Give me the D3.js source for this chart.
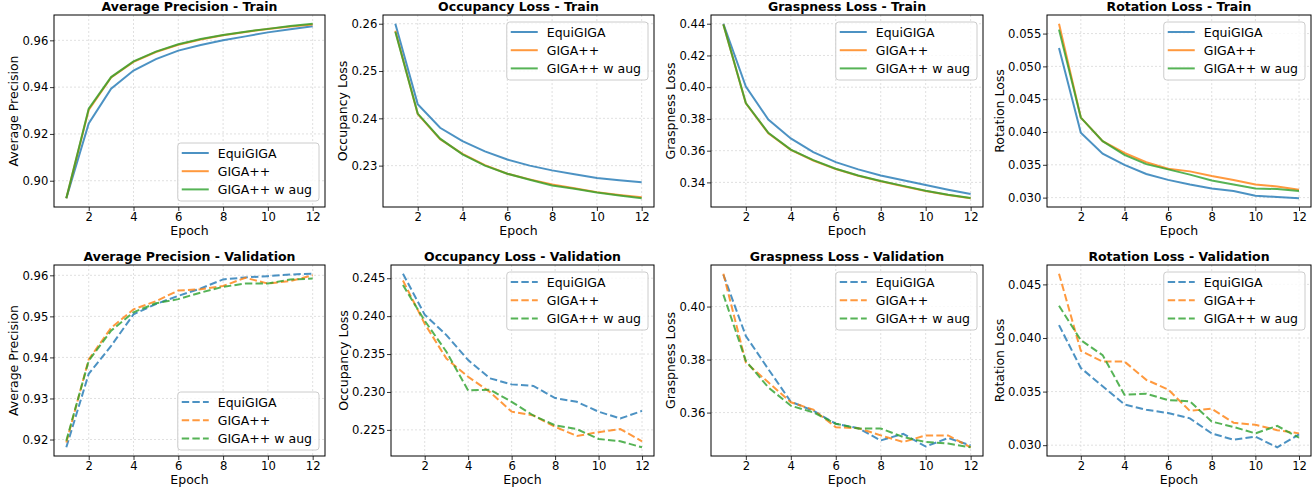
<!DOCTYPE html>
<html>
<head>
<meta charset="utf-8">
<script src="https://cdn.jsdelivr.net/npm/d3@7/dist/d3.min.js"></script>
<style>
body { margin: 0; background: #fff; }
text { font-family: "DejaVu Sans", sans-serif; fill: #000; }
</style>
</head>
<body>
<svg id="chart" width="1316" height="490"></svg>
<script>
// Global data
var epochs = [1, 2, 3, 4, 5, 6, 7, 8, 9, 10, 11, 12];
var xTicks = [2, 4, 6, 8, 10, 12];
var seriesNames = ["EquiGIGA", "GIGA++", "GIGA++ w aug"];
var seriesColors = ["#1f77b4", "#ff7f0e", "#2ca02c"];

// Average precision - train
var apTrainEqui = [0.8925, 0.9245, 0.9393, 0.9471, 0.9520, 0.9556, 0.9580, 0.9600, 0.9617, 0.9634, 0.9647, 0.9660];
var apTrainGiga = [0.8925, 0.9303, 0.9441, 0.9508, 0.9550, 0.9581, 0.9604, 0.9622, 0.9636, 0.9648, 0.9659, 0.9668];
var apTrainAug  = [0.8925, 0.9308, 0.9443, 0.9510, 0.9552, 0.9583, 0.9606, 0.9623, 0.9637, 0.9649, 0.9661, 0.9671];
// Occupancy loss - train
var occTrainEqui = [0.2600, 0.2430, 0.2380, 0.2352, 0.2330, 0.2313, 0.2300, 0.2290, 0.2282, 0.2274, 0.2269, 0.2265];
var occTrainGiga = [0.2585, 0.2409, 0.2356, 0.2325, 0.2301, 0.2283, 0.2271, 0.2260, 0.2252, 0.2244, 0.2238, 0.2233];
var occTrainAug  = [0.2583, 0.2410, 0.2357, 0.2324, 0.2300, 0.2283, 0.2270, 0.2258, 0.2251, 0.2243, 0.2237, 0.2231];
// Graspness loss - train
var graspTrainEqui = [0.4400, 0.4004, 0.3796, 0.3677, 0.3591, 0.3528, 0.3482, 0.3444, 0.3413, 0.3383, 0.3354, 0.3327];
var graspTrainGiga = [0.4395, 0.3898, 0.3710, 0.3605, 0.3538, 0.3484, 0.3442, 0.3407, 0.3376, 0.3346, 0.3321, 0.3300];
var graspTrainAug  = [0.4395, 0.3900, 0.3712, 0.3607, 0.3540, 0.3486, 0.3444, 0.3409, 0.3378, 0.3348, 0.3322, 0.3301];
// Rotation loss - train
var rotTrainEqui = [0.0528, 0.0399, 0.0367, 0.0350, 0.0336, 0.0327, 0.0320, 0.0314, 0.0310, 0.0303, 0.0301, 0.0299];
var rotTrainGiga = [0.0565, 0.0422, 0.0386, 0.0368, 0.0354, 0.0344, 0.0340, 0.0333, 0.0327, 0.0320, 0.0317, 0.0312];
var rotTrainAug  = [0.0556, 0.0422, 0.0386, 0.0365, 0.0351, 0.0343, 0.0335, 0.0326, 0.0320, 0.0314, 0.0313, 0.0310];
// Average precision - validation
var apValEqui = [0.9181, 0.9360, 0.9428, 0.9505, 0.9530, 0.9550, 0.9568, 0.9590, 0.9595, 0.9598, 0.9602, 0.9604];
var apValGiga = [0.9193, 0.9395, 0.9472, 0.9517, 0.9537, 0.9563, 0.9566, 0.9574, 0.9594, 0.9580, 0.9586, 0.9600];
var apValAug  = [0.9197, 0.9392, 0.9465, 0.9510, 0.9532, 0.9542, 0.9558, 0.9572, 0.9580, 0.9580, 0.9590, 0.9592];
// Occupancy loss - validation
var occValEqui = [0.2456, 0.2402, 0.2375, 0.2342, 0.2318, 0.2310, 0.2308, 0.2292, 0.2287, 0.2274, 0.2265, 0.2275];
var occValGiga = [0.2447, 0.2390, 0.2344, 0.2320, 0.2300, 0.2274, 0.2269, 0.2254, 0.2242, 0.2247, 0.2251, 0.2235];
var occValAug  = [0.2441, 0.2394, 0.2353, 0.2302, 0.2303, 0.2287, 0.2269, 0.2256, 0.2251, 0.2238, 0.2235, 0.2227];
// Graspness loss - validation
var graspValEqui = [0.4120, 0.3889, 0.3764, 0.3641, 0.3607, 0.3558, 0.3541, 0.3495, 0.3520, 0.3472, 0.3504, 0.3476];
var graspValGiga = [0.4124, 0.3789, 0.3714, 0.3639, 0.3611, 0.3545, 0.3541, 0.3514, 0.3489, 0.3514, 0.3514, 0.3469];
var graspValAug  = [0.4045, 0.3795, 0.3695, 0.3626, 0.3601, 0.3558, 0.3540, 0.3540, 0.3508, 0.3489, 0.3483, 0.3469];
// Rotation loss - validation
var rotValEqui = [0.0412, 0.0372, 0.0355, 0.0338, 0.0333, 0.0330, 0.0325, 0.0311, 0.0305, 0.0308, 0.0298, 0.0310];
var rotValGiga = [0.0460, 0.0388, 0.0378, 0.0378, 0.0361, 0.0352, 0.0332, 0.0334, 0.0321, 0.0319, 0.0314, 0.0311];
var rotValAug  = [0.0430, 0.0398, 0.0384, 0.0347, 0.0348, 0.0342, 0.0341, 0.0322, 0.0317, 0.0311, 0.0318, 0.0307];

// tick labels per panel
var apTrainTicks = [0.90, 0.92, 0.94, 0.96];
var occTrainTicks = [0.23, 0.24, 0.25, 0.26];
var graspTrainTicks = [0.34, 0.36, 0.38, 0.40, 0.42, 0.44];
var rotTrainTicks = [0.030, 0.035, 0.040, 0.045, 0.050, 0.055];
var apValTicks = [0.92, 0.93, 0.94, 0.95, 0.96];
var occValTicks = [0.225, 0.230, 0.235, 0.240, 0.245];
var graspValTicks = [0.36, 0.38, 0.40];
var rotValTicks = [0.030, 0.035, 0.040, 0.045];

var panels = [
	{ title: "Average Precision - Train", ylabel: "Average Precision", ticks: apTrainTicks, fmt: ".2f", legend: "lower", dashed: false, series: [apTrainEqui, apTrainGiga, apTrainAug] },
	{ title: "Occupancy Loss - Train", ylabel: "Occupancy Loss", ticks: occTrainTicks, fmt: ".2f", legend: "upper", dashed: false, series: [occTrainEqui, occTrainGiga, occTrainAug] },
	{ title: "Graspness Loss - Train", ylabel: "Graspness Loss", ticks: graspTrainTicks, fmt: ".2f", legend: "upper", dashed: false, series: [graspTrainEqui, graspTrainGiga, graspTrainAug] },
	{ title: "Rotation Loss - Train", ylabel: "Rotation Loss", ticks: rotTrainTicks, fmt: ".3f", legend: "upper", dashed: false, series: [rotTrainEqui, rotTrainGiga, rotTrainAug] },
	{ title: "Average Precision - Validation", ylabel: "Average Precision", ticks: apValTicks, fmt: ".2f", legend: "lower", dashed: true, series: [apValEqui, apValGiga, apValAug] },
	{ title: "Occupancy Loss - Validation", ylabel: "Occupancy Loss", ticks: occValTicks, fmt: ".3f", legend: "upper", dashed: true, series: [occValEqui, occValGiga, occValAug] },
	{ title: "Graspness Loss - Validation", ylabel: "Graspness Loss", ticks: graspValTicks, fmt: ".2f", legend: "upper", dashed: true, series: [graspValEqui, graspValGiga, graspValAug] },
	{ title: "Rotation Loss - Validation", ylabel: "Rotation Loss", ticks: rotValTicks, fmt: ".3f", legend: "upper", dashed: true, series: [rotValEqui, rotValGiga, rotValAug] }
];

// axes boxes: left, right, top, bottom
var boxes = [
	[54, 325, 15, 207], [383, 654, 15, 207], [711, 983, 15, 207], [1047, 1311, 15, 207],
	[54, 325, 265, 456], [391, 654, 265, 456], [711, 983, 265, 456], [1047, 1311, 265, 456]
];

var svg = d3.select("#chart");

function drawPanel(p, b) {
	var left = b[0], right = b[1], top = b[2], bottom = b[3];
	var g = svg.append("g");

	var x = d3.scaleLinear().domain([0.45, 12.55]).range([left, right]);

	// matplotlib style 5% margins around the data
	var all = d3.merge(p.series);
	var lo = d3.min(all), hi = d3.max(all), pad = (hi - lo) * 0.05;
	var y = d3.scaleLinear().domain([lo - pad, hi + pad]).range([bottom, top]);

	// grid
	g.append("g").selectAll("line").data(xTicks).enter().append("line")
		.attr("x1", function(d) { return x(d); }).attr("x2", function(d) { return x(d); })
		.attr("y1", top).attr("y2", bottom)
		.attr("stroke", "#d8d8d8").attr("stroke-width", 0.8).attr("stroke-dasharray", "2,2");
	g.append("g").selectAll("line").data(p.ticks).enter().append("line")
		.attr("y1", function(d) { return y(d); }).attr("y2", function(d) { return y(d); })
		.attr("x1", left).attr("x2", right)
		.attr("stroke", "#d8d8d8").attr("stroke-width", 0.8).attr("stroke-dasharray", "2,2");

	// series lines
	var line = d3.line()
		.x(function(d, i) { return x(epochs[i]); })
		.y(function(d) { return y(d); });

	p.series.forEach(function(s, i) {
		g.append("path")
			.datum(s)
			.attr("d", line)
			.attr("fill", "none")
			.attr("stroke", seriesColors[i])
			.attr("stroke-opacity", 0.8)
			.attr("stroke-width", 2)
			.attr("stroke-dasharray", p.dashed ? "7.4,3.2" : null);
	});

	// axes
	var xAxis = d3.axisBottom(x).tickValues(xTicks).tickSize(4).tickPadding(2).tickSizeOuter(0);
	var gx = g.append("g").attr("transform", "translate(0," + bottom + ")").call(xAxis);
	var yAxis = d3.axisLeft(y).tickValues(p.ticks).tickFormat(d3.format(p.fmt)).tickSize(4).tickPadding(1.7).tickSizeOuter(0);
	var gy = g.append("g").attr("transform", "translate(" + left + ",0)").call(yAxis);
	[gx, gy].forEach(function(a) {
		a.select(".domain").remove();
		a.selectAll(".tick line").attr("stroke", "#000").attr("stroke-width", 0.8);
		a.selectAll(".tick text").attr("font-size", 11.6).attr("font-family", "DejaVu Sans").attr("fill", "#000");
	});

	// frame
	g.append("rect")
		.attr("x", left).attr("y", top)
		.attr("width", right - left).attr("height", bottom - top)
		.attr("fill", "none").attr("stroke", "#000").attr("stroke-width", 1);

	// title and labels
	g.append("text")
		.attr("x", (left + right) / 2).attr("y", top - 4)
		.attr("text-anchor", "middle")
		.attr("font-size", 12.5).attr("font-weight", "bold")
		.text(p.title);

	g.append("text")
		.attr("x", (left + right) / 2).attr("y", bottom + 28)
		.attr("text-anchor", "middle")
		.attr("font-size", 12.5)
		.text("Epoch");

	var maxW = 0;
	gy.selectAll(".tick text").each(function() {
		maxW = Math.max(maxW, this.getComputedTextLength());
	});
	var lx = left - 5.7 - maxW - 4.5;
	g.append("text")
		.attr("transform", "translate(" + lx + "," + (top + bottom) / 2 + ") rotate(-90)")
		.attr("text-anchor", "middle")
		.attr("font-size", 12.5)
		.text(p.ylabel);

	// legend
	var leg = g.append("g");
	var texts = [];
	seriesNames.forEach(function(n, i) {
		texts.push(leg.append("text").attr("font-size", 12.5).text(n));
	});
	var tw = d3.max(texts, function(t) { return t.node().getComputedTextLength(); });
	var lw = 40 + tw + 7, lh = 58;
	var bx = right - 6 - lw;
	var by = p.legend == "upper" ? top + 7 : bottom - 6 - lh;
	leg.insert("rect", "text")
		.attr("x", bx).attr("y", by).attr("width", lw).attr("height", lh)
		.attr("rx", 3)
		.attr("fill", "#fff").attr("fill-opacity", 0.8)
		.attr("stroke", "#cccccc").attr("stroke-width", 1);
	texts.forEach(function(t, i) {
		var ry = by + 10 + i * 18.2;
		t.attr("x", bx + 40).attr("y", ry + 4.5);
		leg.append("line")
			.attr("x1", bx + 4).attr("x2", bx + 31)
			.attr("y1", ry).attr("y2", ry)
			.attr("stroke", seriesColors[i])
			.attr("stroke-opacity", 0.8)
			.attr("stroke-width", 2)
			.attr("stroke-dasharray", p.dashed ? "7.4,3.2" : null);
	});
}

panels.forEach(function(p, i) {
	drawPanel(p, boxes[i]);
});
</script>
</body>
</html>
